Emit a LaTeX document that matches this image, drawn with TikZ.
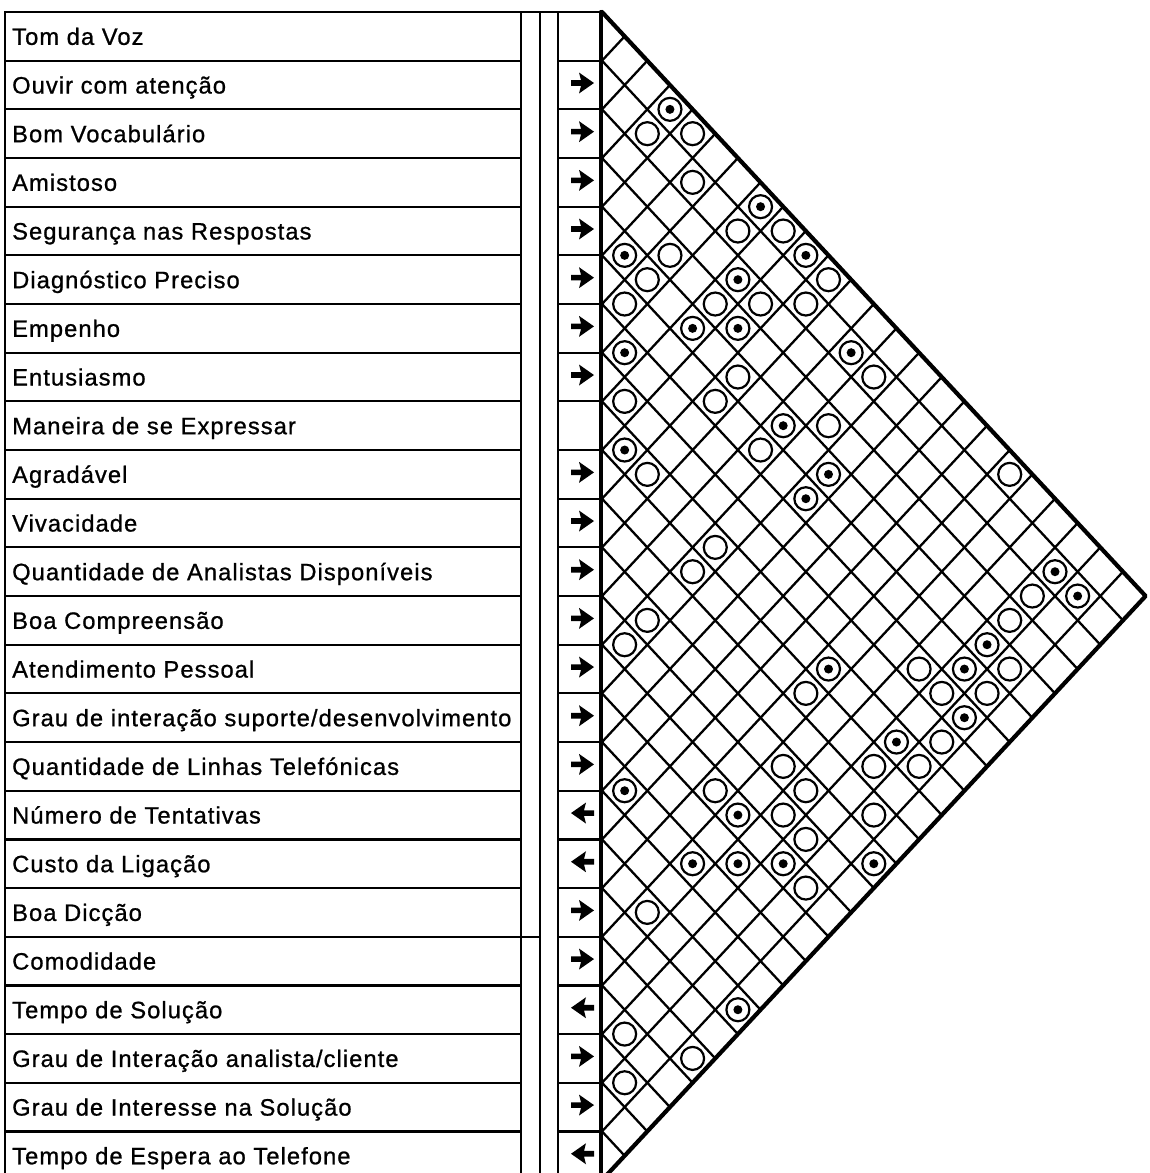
\documentclass[tikz,border=0pt]{standalone}
\usepackage{fontspec}
\setmainfont[LetterSpace=4.5,FakeBold=0.9]{Liberation Sans}
\begin{document}
\begin{tikzpicture}[x=1pt,y=-1pt,
  boxline/.style={line width=2.2pt},
  heavyline/.style={line width=2.8pt},
  outerline/.style={line width=4.2pt, line join=round, line cap=round},
  gridline/.style={line width=2.3pt},
  lbl/.style={anchor=base west, inner sep=0pt, font=\fontsize{23.7}{28}\selectfont},
  ring/.style={line width=2.2pt},
]
\useasboundingbox (0,0) rectangle (1149,1173);
\clip (0,0) rectangle (1149,1173);
% ---- list box
\draw[heavyline] (5,12) -- (5,1180);
\draw[boxline] (521,12) -- (521,1180);
\draw[heavyline] (540,12) -- (540,1180);
\draw[heavyline] (558,12) -- (558,1180);
\draw[heavyline] (4,12) -- (602,12);
\foreach \r in {1,...,24} {
  \draw[boxline] (5,{12+48.67*\r}) -- (521,{12+48.67*\r});
  \draw[boxline] (558,{12+48.67*\r}) -- (601,{12+48.67*\r});
}
\draw[boxline] (5,{12+48.67*19}) -- (540,{12+48.67*19});
% ---- labels
\node[lbl] (t1)  at (12,{12+48.67*0.5+8.5})  {Tom da Voz};
\node[lbl] (t2)  at (12,{12+48.67*1.5+8.5})  {Ouvir com atenção};
\node[lbl] (t3)  at (12,{12+48.67*2.5+8.5})  {Bom Vocabulário};
\node[lbl] (t4)  at (12,{12+48.67*3.5+8.5})  {Amistoso};
\node[lbl] (t5)  at (12,{12+48.67*4.5+8.5})  {Segurança nas Respostas};
\node[lbl] (t6)  at (12,{12+48.67*5.5+8.5})  {Diagnóstico Preciso};
\node[lbl] (t7)  at (12,{12+48.67*6.5+8.5})  {Empenho};
\node[lbl] (t8)  at (12,{12+48.67*7.5+8.5})  {Entusiasmo};
\node[lbl] (t9)  at (12,{12+48.67*8.5+8.5})  {Maneira de se Expressar};
\node[lbl] (t10) at (12,{12+48.67*9.5+8.5})  {Agradável};
\node[lbl] (t11) at (12,{12+48.67*10.5+8.5}) {Vivacidade};
\node[lbl] (t12) at (12,{12+48.67*11.5+8.5}) {Quantidade de Analistas Disponíveis};
\node[lbl] (t13) at (12,{12+48.67*12.5+8.5}) {Boa Compreensão};
\node[lbl] (t14) at (12,{12+48.67*13.5+8.5}) {Atendimento Pessoal};
\node[lbl] (t15) at (12,{12+48.67*14.5+8.5}) {Grau de interação suporte/desenvolvimento};
\node[lbl] (t16) at (12,{12+48.67*15.5+8.5}) {Quantidade de Linhas Telefónicas};
\node[lbl] (t17) at (12,{12+48.67*16.5+8.5}) {Número de Tentativas};
\node[lbl] (t18) at (12,{12+48.67*17.5+8.5}) {Custo da Ligação};
\node[lbl] (t19) at (12,{12+48.67*18.5+8.5}) {Boa Dicção};
\node[lbl] (t20) at (12,{12+48.67*19.5+8.5}) {Comodidade};
\node[lbl] (t21) at (12,{12+48.67*20.5+8.5}) {Tempo de Solução};
\node[lbl] (t22) at (12,{12+48.67*21.5+8.5}) {Grau de Interação analista/cliente};
\node[lbl] (t23) at (12,{12+48.67*22.5+8.5}) {Grau de Interesse na Solução};
\node[lbl] (t24) at (12,{12+48.67*23.5+8.5}) {Tempo de Espera ao Telefone};
% ---- arrows
\foreach \r in {1,2,3,4,5,6,7,9,10,11,12,13,14,15,18,19,21,22} {
  \fill[shift={(582.5,{12+48.67*(\r+0.5)-2})}] (-11.5,-2.8) -- (-1.5,-2.8) -- (-3.5,-10.5) -- (11.5,0) -- (-3.5,10.5) -- (-1.5,2.8) -- (-11.5,2.8) -- cycle;
}
\foreach \r in {16,17,20,23} {
  \fill[shift={(582.5,{12+48.67*(\r+0.5)-2})}] (11.5,-2.8) -- (1.5,-2.8) -- (3.5,-10.5) -- (-11.5,0) -- (3.5,10.5) -- (1.5,2.8) -- (11.5,2.8) -- cycle;
}
% ---- triangular correlation grid
\foreach \r in {1,...,23} {
  \draw[gridline] (602,{12+48.67*\r}) -- ({602+22.65*(24-\r)},{12+48.67*(\r+24)/2});
  \draw[gridline] (602,{12+48.67*\r}) -- ({602+22.65*\r},{12+48.67*\r/2});
}
\draw[outerline] (601,12) -- (601,1180);
\draw[outerline] (602,12) -- ({602+22.65*24},{12+48.67*12}) -- (602,{12+48.67*24});
% ---- symbols: plain rings
\foreach \k/\j in {2/5,4/5,4/7,6/9,8/9,3/10,2/11,10/11,1/12,5/12,7/12,9/12,6/15,12/15,1/16,5/16,10/17,7/18,2/19,5/22,4/23,18/19,19/24,2/25,1/26,9/28,8/31,12/31,5/32,9/32,8/33,12/33,9/34,9/36,2/37,1/42,4/43,1/44,18/25,14/27,18/27,15/28,17/28,15/30,14/31} {
  \draw[ring] ({602+22.65*\k},{12+24.335*\j}) circle[radius=11.5];
}
% ---- symbols: rings with dot
\foreach \k/\j in {3/4,7/8,1/10,9/10,6/11,4/13,6/13,1/14,11/14,8/17,1/18,10/19,9/20,20/23,21/24,10/27,13/30,1/32,6/33,4/35,6/35,8/35,12/35,6/41,17/26,16/27,16/29} {
  \draw[ring] ({602+22.65*\k},{12+24.335*\j}) circle[radius=11.5];
  \fill ({602+22.65*\k},{12+24.335*\j}) circle[radius=4.5];
}
\end{tikzpicture}
\end{document}
